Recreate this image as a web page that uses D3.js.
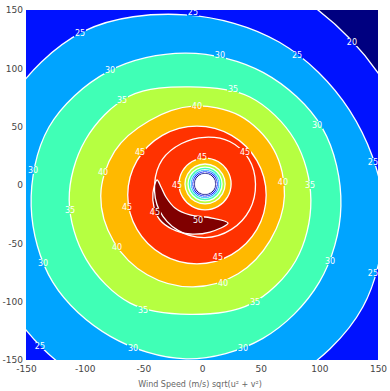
<!DOCTYPE html>
<html><head><meta charset="utf-8">
<script src="https://cdn.jsdelivr.net/npm/d3@7"></script>
<style>body{margin:0;background:#fff}svg{display:block}</style>
</head><body><svg id="c" width="390" height="391"></svg>
<script>
// ---- data ----
const xTicks = [-150, -100, -50, 0, 50, 100, 150];
const yTicks = [-150, -100, -50, 0, 50, 100, 150];
const levels = [15, 20, 25, 30, 35, 40, 45, 50];
const bandColors = ['#ffffff', '#000080', '#0012ff', '#00a4ff', '#40ffb6', '#b6ff41', '#ffb900', '#ff3200', '#800000'];
const angleDeg = [0, 30, 60, 90, 120, 150, 180, 210, 240, 270, 300, 330];

// outer contours: centre (x,y) and radius at each angle (data units)
const c20 = [-14.5, -17.1], r20 = [209, 200, 203, 218, 231, 235, 235, 235, 235, 235, 231, 222];
const c25 = [-14.5, -17.1], r25 = [169, 162, 161, 163, 172, 174, 174, 173, 173, 173, 174, 175];
const c30 = [-13.6, -18.0], r30 = [132, 134, 132, 131, 133, 135, 132, 131, 129, 131, 131, 131];
const c35 = [-10.2, -12.9], r35 = [103, 103, 102, 97, 103, 103, 103, 102, 102, 98, 103, 104];
const c40 = [-7.7, -9.4], r40 = [78, 79.5, 79.5, 77, 74.5, 77, 78.6, 78, 78, 78, 77, 76];
const c45 = [-4.3, -8.6], r45 = [59, 59, 59, 59, 59, 59, 59, 59, 59, 59, 59, 59];
// line-only contour inside the red band
const cInner = [2.6, 0.9], rInner = [43, 43, 42, 40, 40, 42, 43, 45, 46, 46, 45, 44];
// eye: levels decreasing inward
const eyeCenter = [2.6, 0.9];
const eyeLevels = [45, 40, 35, 30, 25, 20, 15];
const eyeRadii = [22.2, 17.1, 14.5, 12.4, 11.1, 9.8, 8.5];
// wind maximum (>50) crescent outline
const crescent = [[-38.3, 4.3], [-41.8, -6.9], [-40.9, -18.9], [-35.8, -30], [-25.6, -37.7], [-10.2, -42],
  [6.8, -40.3], [22.2, -32.6], [8.5, -28.3], [-10.2, -25.7], [-23, -19.7], [-30.7, -10.3], [-34.9, -1.7]];
// contour labels
const labelText = ['20', '25', '25', '25', '25', '25', '25', '30', '30', '30', '30', '30', '30', '30', '30',
  '35', '35', '35', '35', '35', '35', '40', '40', '40', '40', '40', '45', '45', '45', '45', '45', '45', '50', '45'];
const labelX = [127.8, -104, -7.7, 81, 145.7, 145.7, -138.1, -78.4, 15.3, 98, 109.1, 34.9, -58.8, -135.5, -144,
  -68.2, 26.4, 92.1, 45.2, -50.3, -112.5, -4.3, 69, 17.9, -72.4, -84.4, -52.8, 36.7, -63.9, 13.6, 0, -21.3, -3.4, -40.1];
const labelY = [122.6, 130.3, 148.3, 111.4, 19.7, -75.4, -138, 98.6, 111.4, 51.4, -65.1, -139.7, -139.7, -66.9, 12.9,
  72.9, 82.3, 0, -100.3, -107.1, -21.4, 67.7, 2.6, -84, -53.1, 11.1, 28.3, 28.3, -18.9, -61.7, 24, 0, -30, -23.1];
const xLabel = 'Wind Speed (m/s) sqrt(u\u00b2 + v\u00b2)';

// ---- drawing ----
const svg = d3.select('#c');
const x = d3.scaleLinear().domain([-150, 150]).range([26, 378]);
const y = d3.scaleLinear().domain([-150, 150]).range([360, 10]);
const color = d3.scaleThreshold().domain(levels).range(bandColors);

const line = d3.line().x(d => x(d[0])).y(d => y(d[1])).curve(d3.curveCatmullRomClosed.alpha(0.5));
const ring = (c, radii) => radii.map((r, i) => {
  const a = angleDeg[i % angleDeg.length] * Math.PI / 180;
  return [c[0] + r * Math.cos(a), c[1] + r * Math.sin(a)];
});
const circ = (c, r) => ring(c, angleDeg.map(() => r));

const defs = svg.append('defs');
defs.append('clipPath').attr('id', 'clip').append('rect')
  .attr('x', x(-150)).attr('y', y(150)).attr('width', x(150) - x(-150)).attr('height', y(-150) - y(150));

const plot = svg.append('g').attr('clip-path', 'url(#clip)');
plot.append('rect').attr('x', x(-150)).attr('y', y(150)).attr('width', x(150) - x(-150))
  .attr('height', y(-150) - y(150)).attr('fill', color(17));

const outer = [[20, c20, r20], [25, c25, r25], [30, c30, r30], [35, c35, r35], [40, c40, r40], [45, c45, r45]];
const fills = plot.append('g');
outer.forEach(([lv, c, r]) => fills.append('path').attr('d', line(ring(c, r))).attr('fill', color(lv)));
fills.append('path').attr('d', line(crescent)).attr('fill', color(50));
eyeLevels.forEach((lv, i) => fills.append('path').attr('d', line(circ(eyeCenter, eyeRadii[i])))
  .attr('fill', color(lv - 0.01)));

// mask so that lines break under labels
const mask = defs.append('mask').attr('id', 'lblmask');
mask.append('rect').attr('x', 0).attr('y', 0).attr('width', 390).attr('height', 391).attr('fill', '#fff');
labelText.forEach((t, i) => mask.append('rect').attr('x', x(labelX[i]) - 6).attr('y', y(labelY[i]) - 4)
  .attr('width', 12).attr('height', 8).attr('fill', '#000'));

const lines = plot.append('g').attr('mask', 'url(#lblmask)').attr('fill', 'none')
  .attr('stroke', '#fff').attr('stroke-width', 1.3);
outer.forEach(([lv, c, r]) => lines.append('path').attr('d', line(ring(c, r))));
lines.append('path').attr('d', line(crescent));
lines.append('path').attr('d', line(ring(cInner, rInner)));
eyeLevels.forEach((lv, i) => lines.append('path').attr('d', line(circ(eyeCenter, eyeRadii[i])))
  .attr('stroke-width', i < 3 ? 1.3 : 0.9));

plot.append('g').selectAll('text').data(labelText).join('text')
  .attr('x', (d, i) => x(labelX[i])).attr('y', (d, i) => y(labelY[i]))
  .attr('dy', '0.35em').attr('text-anchor', 'middle')
  .attr('font-family', 'DejaVu Sans, sans-serif').attr('font-size', 8).attr('fill', '#fff')
  .text(d => d);

// axes
const xa = svg.append('g').attr('transform', `translate(0,${y(-150)})`)
  .call(d3.axisBottom(x).tickValues(xTicks).tickSize(0).tickPadding(6).tickFormat(d => d));
const ya = svg.append('g').attr('transform', `translate(${x(-150)},0)`)
  .call(d3.axisLeft(y).tickValues(yTicks).tickSize(0).tickPadding(3).tickFormat(d => d));
[xa, ya].forEach(a => {
  a.select('.domain').remove();
  a.selectAll('text').attr('font-family', 'DejaVu Sans, sans-serif').attr('font-size', 9).attr('fill', '#444');
});
svg.append('text').attr('x', 200).attr('y', 387).attr('text-anchor', 'middle')
  .attr('font-family', 'DejaVu Sans, sans-serif').attr('font-size', 8).attr('fill', '#666').text(xLabel);
</script></body></html>
